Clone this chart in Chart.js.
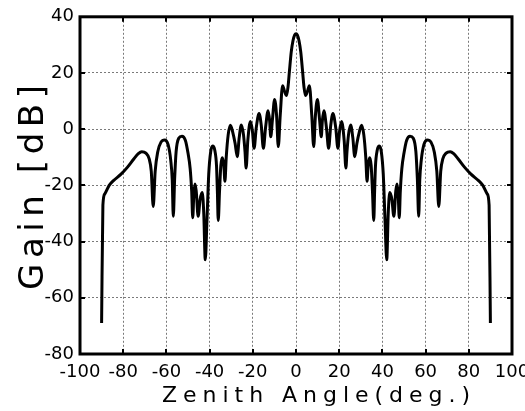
<!DOCTYPE html>
<html>
<head>
<meta charset="utf-8">
<script src="https://cdn.jsdelivr.net/npm/chart.js@4/dist/chart.umd.min.js"></script>
<style>
  html, body { margin: 0; padding: 0; background: #ffffff; }
  #wrap { width: 525px; height: 411px; }
</style>
</head>
<body>
<div id="wrap"><canvas id="c" width="525" height="411"></canvas></div>
<script>
// Zenith angle (deg) samples
const angles = [
  -90, -89.4, -88.5, -86.5, -84.5, -81, -78, -75, -73, -71.4,
  -69.5, -68, -67, -66.1, -65.2, -64, -62.5, -60.8, -59.2, -58,
  -57.3, -56.8, -56.2, -55.5, -54.3, -52.8, -51.2, -50, -49, -48.3,
  -47.8, -47.3, -46.8, -46.2, -45.3, -44.4, -43.4, -42.7, -42, -41.2,
  -40.4, -39.5, -38.6, -37.6, -36.8, -36.4, -36, -35.4, -34.8, -34.1,
  -33.4, -32.9, -32.3, -31.4, -30.4, -29.3, -28.2, -27.2, -26.3, -25.3,
  -24.3, -23.6, -23.1, -22.3, -21.1, -20.2, -19.4, -18.4, -17.1, -16.1,
  -15.1, -14.1, -12.9, -12.2, -11.7, -10.9, -9.9, -9, -8.2, -7.3,
  -6.2, -5.3, -4.4, -3.7, -3, -2.2, -1.4, -0.6, 0,
  0.6, 1.4, 2.2, 3, 3.7, 4.4, 5.3, 6.2,
  7.3, 8.2, 9, 9.9, 10.9, 11.7, 12.2, 12.9, 14.1, 15.1,
  16.1, 17.1, 18.4, 19.4, 20.2, 21.1, 22.3, 23.1, 23.6, 24.3,
  25.3, 26.3, 27.2, 28.2, 29.3, 30.4, 31.4, 32.3, 32.9, 33.4,
  34.1, 34.8, 35.4, 36, 36.4, 36.8, 37.6, 38.6, 39.5, 40.4,
  41.2, 42, 42.7, 43.4, 44.4, 45.3, 46.2, 46.8, 47.3, 47.8,
  48.3, 49, 50, 51.2, 52.8, 54.3, 55.5, 56.2, 56.8, 57.3,
  58, 59.2, 60.8, 62.5, 64, 65.2, 66.1, 67, 68, 69.5,
  71.4, 73, 75, 78, 81, 84.5, 86.5, 88.5, 89.4, 90
];
// Gain (dB)
const gainDb = [
  -69, -27, -23, -20, -18.3, -16, -13.5, -10.5, -8.7, -8,
  -8.5, -10.5, -15, -27.5, -15, -8, -4.6, -3.8, -5.5, -11,
  -18, -31, -18, -8, -3.2, -2.5, -4, -8.5, -14, -22,
  -31.5, -23, -19.5, -22, -31, -25, -22.5, -30, -46.5, -32,
  -16, -8, -6, -7.5, -13, -22, -32.5, -22, -13, -10.2,
  -13, -18.5, -10, -2, 1.4, -1, -5, -9.8, -3, 1.5,
  -2, -8, -13.8, -4, 2.7, -0.5, -6.8, 0.5, 5.6, 1.5,
  -6.8, 0.5, 6.6, 3, -2.7, 3.5, 10.6, 5, -6.2, 5,
  15.5, 13.5, 12, 15, 21, 27.5, 31.5, 33.6, 34,
  33.6, 31.5, 27.5, 21, 15, 12, 13.5, 15.5,
  5, -6.2, 5, 10.6, 3.5, -2.7, 3, 6.6, 0.5, -6.8,
  1.5, 5.6, 0.5, -6.8, -0.5, 2.7, -4, -13.8, -8, -2,
  1.5, -3, -9.8, -5, -1, 1.4, -2, -10, -18.5, -13,
  -10.2, -13, -22, -32.5, -22, -13, -7.5, -6, -8, -16,
  -32, -46.5, -30, -22.5, -25, -31, -22, -19.5, -23, -31.5,
  -22, -14, -8.5, -4, -2.5, -3.2, -8, -18, -31, -18,
  -11, -5.5, -3.8, -4.6, -8, -15, -27.5, -15, -10.5, -8.5,
  -8, -8.7, -10.5, -13.5, -16, -18.3, -20, -23, -27, -69
];
const xTicks = [-100, -80, -60, -40, -20, 0, 20, 40, 60, 80, 100];
const yTicks = [-80, -60, -40, -20, 0, 20, 40];
const xTitle = 'Zenith Angle(deg.)';
const yTitle = 'Gain [dB]';
const FONT = '"DejaVu Sans", "Liberation Sans", Arial, sans-serif';

const framePlugin = {
  id: 'frame',
  afterDraw(chart) {
    const ctx = chart.ctx;
    const a = chart.chartArea;
    const xs = chart.scales.x, ys = chart.scales.y;
    ctx.save();
    ctx.strokeStyle = '#000';
    ctx.lineWidth = 2;
    ctx.setLineDash([]);
    ctx.beginPath();
    xTicks.forEach(v => {
      const px = Math.round(xs.getPixelForValue(v));
      ctx.moveTo(px, a.bottom); ctx.lineTo(px, a.bottom - 5);
      ctx.moveTo(px, a.top); ctx.lineTo(px, a.top + 5);
    });
    yTicks.forEach(v => {
      const py = Math.round(ys.getPixelForValue(v));
      ctx.moveTo(a.left, py); ctx.lineTo(a.left + 5, py);
      ctx.moveTo(a.right, py); ctx.lineTo(a.right - 5, py);
    });
    ctx.stroke();
    ctx.lineWidth = 3;
    ctx.strokeRect(a.left, a.top, a.right - a.left, a.bottom - a.top);

    // axis titles with wide letter spacing
    ctx.fillStyle = '#000';
    ctx.textAlign = 'left';
    ctx.textBaseline = 'alphabetic';
    ctx.font = '22px ' + FONT;
    ctx.letterSpacing = '0px';
    let w = ctx.measureText(xTitle).width;
    let sp = (308 - w) / (xTitle.length - 1);
    ctx.letterSpacing = sp + 'px';
    ctx.fillText(xTitle, 316 - 154, 402);

    ctx.font = '34px ' + FONT;
    ctx.letterSpacing = '0px';
    w = ctx.measureText(yTitle).width;
    sp = (205 - w) / (yTitle.length - 1);
    ctx.letterSpacing = sp + 'px';
    ctx.translate(43, 290);
    ctx.rotate(-Math.PI / 2);
    ctx.fillText(yTitle, 0, 0);
    ctx.restore();
  }
};

new Chart(document.getElementById('c'), {
  type: 'line',
  data: {
    datasets: [{
      data: angles.map((a, i) => ({ x: a, y: gainDb[i] })),
      borderColor: '#000',
      borderWidth: 3,
      pointRadius: 0,
      cubicInterpolationMode: 'monotone',
      fill: false
    }]
  },
  plugins: [framePlugin],
  options: {
    responsive: false,
    animation: false,
    layout: { padding: { top: 13, right: 13, left: 0, bottom: 0 } },
    plugins: { legend: { display: false }, tooltip: { enabled: false } },
    scales: {
      x: {
        type: 'linear', min: -100, max: 100,
        afterFit(s) { s.height = 57; s.paddingLeft = 0; s.paddingRight = 0; },
        afterBuildTicks(s) { s.ticks = xTicks.map(v => ({ value: v })); },
        ticks: { color: '#000', padding: 8, maxRotation: 0, minRotation: 0, autoSkip: false,
                 font: { family: FONT, size: 18 } },
        grid: { color: '#7a7a7a', lineWidth: 1, drawTicks: false },
        border: { display: false, dash: [2, 2] }
      },
      y: {
        type: 'linear', min: -80, max: 40,
        afterFit(s) { s.width = 80; },
        afterBuildTicks(s) { s.ticks = yTicks.map(v => ({ value: v })); },
        ticks: { color: '#000', padding: 6, font: { family: FONT, size: 18 } },
        grid: { color: '#7a7a7a', lineWidth: 1, drawTicks: false },
        border: { display: false, dash: [2, 2] }
      }
    }
  }
});
</script>
</body>
</html>
